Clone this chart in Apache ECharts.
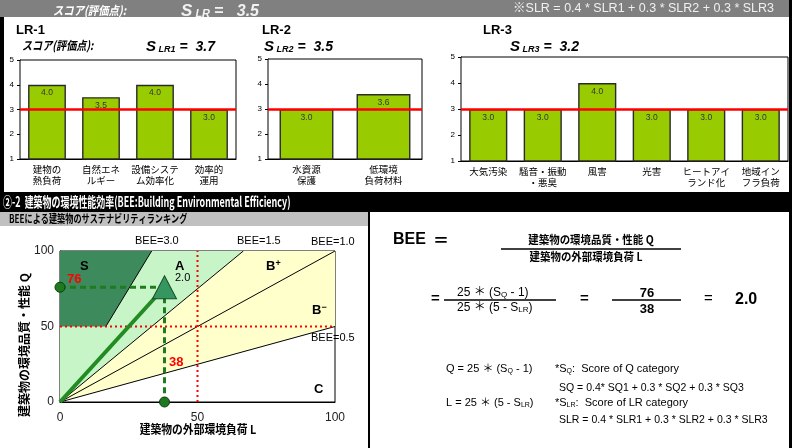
<!DOCTYPE html>
<html>
<head>
<meta charset="utf-8">
<script src="https://cdn.jsdelivr.net/npm/echarts@6/dist/echarts.min.js"></script>
<style>
  html, body { margin: 0; padding: 0; background: #fff; }
  #chart { width: 792px; height: 448px; }
</style>
</head>
<body>
<div id="chart"></div>
<script>
// LR scores (bar charts)
const lr1Cats = ['建物の\n熱負荷', '自然エネ\nルギー', '設備システ\nム効率化', '効率的\n運用'];
const lr1Vals = [4.0, 3.5, 4.0, 3.0];
const lr2Cats = ['水資源\n保護', '低環境\n負荷材料'];
const lr2Vals = [3.0, 3.6];
const lr3Cats = ['大気汚染', '騒音・振動\n・悪臭', '風害', '光害', 'ヒートアイ\nランド化', '地域イン\nフラ負荷'];
const lr3Vals = [3.0, 3.0, 4.0, 3.0, 3.0, 3.0];
const refLine = 3;
const scoreTicks = [1, 2, 3, 4, 5];

// BEE chart
const beeLevels = [3.0, 1.5, 1.0, 0.5];
const beeTicks = [0, 50, 100];
const pointL = 38;
const pointQ = 76;
const beeValue = 2.0;

const JP = "'Noto Sans CJK JP', sans-serif";
const LAT = "'Liberation Sans', 'Noto Sans CJK JP', sans-serif";

var chart = echarts.init(document.getElementById('chart'));

function txt(x, y, text, o) {
  o = o || {};
  return {
    type: 'text', x: x, y: y, z: 100,
    rotation: o.rot || 0, scaleX: o.sx || 1,
    style: {
      text: text, x: 0, y: 0,
      fill: o.color || '#000',
      font: o.font || ('12px ' + LAT),
      align: o.align || 'left', textAlign: o.align || 'left',
      verticalAlign: 'middle', textVerticalAlign: 'middle',
      rich: o.rich
    }
  };
}
function rect(x, y, w, h, c) {
  return { type: 'rect', z: 0, shape: { x: x, y: y, width: w, height: h }, style: { fill: c } };
}
function hline(x1, x2, y) {
  return { type: 'line', z: 100, shape: { x1: x1, y1: y, x2: x2, y2: y }, style: { stroke: '#000', lineWidth: 1.5 } };
}

// S_xx = v rich text
function scoreRich(sub, val) {
  return '{s|S}{sub| ' + sub + '}{e|= ' + val + '}';
}
function richStyles(bs, ss, col) {
  return {
    s: { font: 'italic bold ' + bs + 'px ' + LAT, fill: col, verticalAlign: 'bottom', lineHeight: bs + 4 },
    sub: { font: 'italic bold ' + ss + 'px ' + LAT, fill: col, verticalAlign: 'bottom', lineHeight: ss, padding: [0, 4, 0, 0] },
    e: { font: 'italic bold ' + (bs - 1) + 'px ' + LAT, fill: col, verticalAlign: 'bottom', lineHeight: bs + 4 }
  };
}

const grids = [
  { left: 20, top: 60, width: 216, height: 99 },
  { left: 268, top: 59, width: 154, height: 100 },
  { left: 461, top: 57, width: 327, height: 104 },
  { left: 60, top: 251, width: 275, height: 151 }
].map(g => Object.assign(g, { show: true, borderColor: '#000', borderWidth: 1, backgroundColor: '#fff', z: 2 }));

function barX(i, cats) {
  return {
    type: 'category', gridIndex: i, data: cats,
    axisLine: { lineStyle: { color: '#000' } }, axisTick: { show: false },
    axisLabel: { fontSize: 9.5, lineHeight: 11, color: '#000', margin: 5, interval: 0, fontFamily: JP }
  };
}
function barY(i) {
  return {
    type: 'value', gridIndex: i, min: scoreTicks[0], max: scoreTicks[scoreTicks.length - 1], interval: 1,
    axisLine: { show: true, lineStyle: { color: '#000' } },
    axisTick: { show: true, length: 3, lineStyle: { color: '#000' } },
    axisLabel: { fontSize: 8, color: '#000', margin: 6, fontFamily: LAT },
    splitLine: { lineStyle: { color: '#c0c0c0' } }
  };
}
function barSeries(i, vals) {
  return {
    type: 'bar', xAxisIndex: i, yAxisIndex: i, data: vals, barCategoryGap: '30%', z: 3,
    itemStyle: { color: '#99cc00', borderColor: '#2a2a2a', borderWidth: 1.4 },
    label: { show: true, position: 'insideTop', distance: 4, fontSize: 8.5, color: '#333', fontFamily: LAT,
      formatter: p => p.value.toFixed(1) },
    markLine: { silent: true, symbol: 'none', label: { show: false },
      lineStyle: { color: '#ff0000', width: 2.5, type: 'solid' }, data: [{ yAxis: refLine }] }
  };
}

// BEE regions built from BEE levels
const qTop = beeTicks[2], qMid = beeTicks[1];
const regions = [
  { pts: [[0, 0], [0, qTop], [qTop / beeLevels[1], qTop]], color: '#c8f5c8' },
  { pts: [[0, 0], [qTop / beeLevels[1], qTop], [qTop, qTop], [qTop, qTop * beeLevels[3]]], color: '#ffffcc' },
  { pts: [[0, qMid], [0, qTop], [qTop / beeLevels[0], qTop], [qMid / beeLevels[0], qMid]], color: '#3d8b5c' }
];
function beeLine(b) {
  const start = b >= 3 ? [qMid / b, qMid] : [0, 0];
  const end = b >= 1 ? [qTop / b, qTop] : [qTop, qTop * b];
  return {
    type: 'line', xAxisIndex: 3, yAxisIndex: 3, data: [start, end], symbol: 'none', z: 4, silent: true,
    lineStyle: { color: '#000', width: 1 }
  };
}
function segLine(data, color, width, type, z) {
  return {
    type: 'line', xAxisIndex: 3, yAxisIndex: 3, data: data, symbol: 'none', z: z, silent: true,
    lineStyle: { color: color, width: width, type: type }
  };
}

const option = {
  animation: false,
  grid: grids,
  xAxis: [
    barX(0, lr1Cats), barX(1, lr2Cats), barX(2, lr3Cats),
    { type: 'value', gridIndex: 3, min: 0, max: 100, interval: 50,
      axisLine: { lineStyle: { color: '#000' } }, axisTick: { show: false }, splitLine: { show: false },
      axisLabel: { fontSize: 12, color: '#222', margin: 10, fontFamily: LAT } }
  ],
  yAxis: [
    barY(0), barY(1), barY(2),
    { type: 'value', gridIndex: 3, min: 0, max: 100, interval: 50,
      axisLine: { lineStyle: { color: '#000' } }, axisTick: { show: false }, splitLine: { show: false },
      axisLabel: { fontSize: 12, color: '#222', margin: 6, fontFamily: LAT } }
  ],
  series: [
    barSeries(0, lr1Vals), barSeries(1, lr2Vals), barSeries(2, lr3Vals),
    {
      type: 'custom', xAxisIndex: 3, yAxisIndex: 3, z: 3, silent: true,
      data: regions.map((r, i) => [i]),
      renderItem: (params, api) => {
        const r = regions[params.dataIndex];
        return { type: 'polygon', shape: { points: r.pts.map(p => api.coord(p)) }, style: { fill: r.color } };
      }
    },
    ...beeLevels.map(beeLine),
    segLine([[qMid, 0], [qMid, qTop]], '#ff0000', 2, [2, 3], 5),
    segLine([[0, qMid], [qTop, qMid]], '#ff0000', 2, [2, 3], 5),
    segLine([[0, pointQ], [pointL, pointQ]], '#1e7b1e', 3, [6, 4], 6),
    segLine([[pointL, pointQ], [pointL, 0]], '#1e7b1e', 3, [6, 4], 6),
    segLine([[0, 0], [pointL, pointQ]], '#228b22', 4, 'solid', 7),
    {
      type: 'scatter', xAxisIndex: 3, yAxisIndex: 3, z: 8, silent: true,
      data: [[0, pointQ], [pointL, 0]], symbol: 'circle', symbolSize: 10,
      itemStyle: { color: '#1f7a1f', borderColor: '#0b3d0b', borderWidth: 1, opacity: 1 }
    },
    {
      type: 'scatter', xAxisIndex: 3, yAxisIndex: 3, z: 9, silent: true,
      data: [[pointL, pointQ]], symbol: 'triangle', symbolSize: [24, 23],
      itemStyle: { color: '#359660', borderColor: '#1a4d2a', borderWidth: 1, opacity: 1 }
    }
  ],
  graphic: [
    // frames and bars
    rect(0, 0, 792, 17, '#808080'),
    rect(0, 17, 4, 176, '#000'),
    rect(789, 0, 3, 448, '#000'),
    rect(0, 192, 792, 20, '#000'),
    rect(0, 212, 368, 14, '#c0c0c0'),
    rect(368, 212, 2, 236, '#000'),
    // top bar texts
    txt(53, 10, 'スコア(評価点):', { color: '#fff', font: 'italic bold 12px ' + JP, sx: 0.86 }),
    txt(181, 9, scoreRich('LR', '  3.5'), { rich: richStyles(17, 11, '#f2f2f2') }),
    txt(774, 9, '※SLR = 0.4 * SLR1 + 0.3 * SLR2 + 0.3 * SLR3', { color: '#f0f0f0', font: '12.5px ' + LAT, align: 'right' }),
    // LR titles
    txt(16, 30, 'LR-1', { font: 'bold 13px ' + LAT }),
    txt(22, 45, 'スコア(評価点):', { font: 'italic bold 12px ' + JP, sx: 0.84 }),
    txt(146, 45, scoreRich('LR1', ' 3.7'), { rich: richStyles(15, 9, '#000') }),
    txt(262, 30, 'LR-2', { font: 'bold 13px ' + LAT }),
    txt(264, 45, scoreRich('LR2', ' 3.5'), { rich: richStyles(15, 9, '#000') }),
    txt(483, 30, 'LR-3', { font: 'bold 13px ' + LAT }),
    txt(510, 45, scoreRich('LR3', ' 3.2'), { rich: richStyles(15, 9, '#000') }),
    // section header
    txt(3, 202, '②-2  建築物の環境性能効率(BEE:Building Environmental Efficiency)', { color: '#fff', font: 'bold 14px ' + JP, sx: 0.64 }),
    txt(9, 219, 'BEEによる建築物のサステナビリティランキング', { font: 'bold 11px ' + JP, sx: 0.74 }),
    // BEE chart annotations
    txt(135, 241, 'BEE=3.0', { font: '11px ' + LAT }),
    txt(237, 241, 'BEE=1.5', { font: '11px ' + LAT }),
    txt(311, 242, 'BEE=1.0', { font: '11px ' + LAT }),
    txt(311, 338, 'BEE=0.5', { font: '11px ' + LAT }),
    txt(80, 266, 'S', { font: 'bold 13px ' + LAT }),
    txt(175, 266, 'A', { font: 'bold 13px ' + LAT }),
    txt(266, 266, '{b|B}{p|+}', { rich: { b: { font: 'bold 13px ' + LAT, verticalAlign: 'bottom' }, p: { font: 'bold 9px ' + LAT, verticalAlign: 'top' } } }),
    txt(312, 310, '{b|B}{p|−}', { rich: { b: { font: 'bold 13px ' + LAT, verticalAlign: 'bottom' }, p: { font: 'bold 9px ' + LAT, verticalAlign: 'top' } } }),
    txt(314, 389, 'C', { font: 'bold 13px ' + LAT }),
    txt(67, 279, String(pointQ), { color: '#ff0000', font: 'bold 13px ' + LAT }),
    txt(169, 362, String(pointL), { color: '#ff0000', font: 'bold 13px ' + LAT }),
    txt(175, 278, beeValue.toFixed(1), { font: '11px ' + LAT }),
    txt(198, 429, '建築物の外部環境負荷 L', { font: 'bold 12px ' + JP, align: 'center', sx: 0.9 }),
    txt(24, 345, '建築物の環境品質・性能 Q', { font: 'bold 12px ' + JP, align: 'center', rot: Math.PI / 2 }),
    // right panel formulas
    txt(393, 240, 'BEE', { font: 'bold 16px ' + LAT }),
    txt(433, 240, '＝', { font: 'bold 16px ' + JP }),
    txt(591, 240, '建築物の環境品質・性能 Q', { font: 'bold 11px ' + JP, align: 'center', sx: 0.95 }),
    hline(501, 681, 249),
    txt(586, 257, '建築物の外部環境負荷 L', { font: 'bold 11px ' + JP, align: 'center', sx: 0.95 }),
    txt(431, 299, '=', { font: 'bold 15px ' + LAT }),
    txt(457, 293, '25 ＊ (S{s|Q} - 1)', { font: '12px ' + LAT, rich: { s: { font: '8px ' + LAT, verticalAlign: 'bottom' } } }),
    hline(444, 556, 300),
    txt(457, 308, '25 ＊ (5 - S{s|LR})', { font: '12px ' + LAT, rich: { s: { font: '8px ' + LAT, verticalAlign: 'bottom' } } }),
    txt(580, 299, '=', { font: 'bold 15px ' + LAT }),
    txt(647, 293, String(pointQ), { font: 'bold 13px ' + LAT, align: 'center' }),
    hline(612, 681, 300),
    txt(647, 309, String(pointL), { font: 'bold 13px ' + LAT, align: 'center' }),
    txt(704, 299, '=', { font: '15px ' + LAT }),
    txt(735, 300, beeValue.toFixed(1), { font: 'bold 16px ' + LAT }),
    txt(446, 369, 'Q = 25 ＊ (S{s|Q} - 1)', { font: '11px ' + LAT, rich: { s: { font: '7px ' + LAT, verticalAlign: 'bottom' } } }),
    txt(555, 369, '*S{s|Q}:  Score of Q category', { font: '11px ' + LAT, rich: { s: { font: '7px ' + LAT, verticalAlign: 'bottom' } } }),
    txt(559, 388, 'SQ = 0.4* SQ1 + 0.3 * SQ2 + 0.3 * SQ3', { font: '10.5px ' + LAT }),
    txt(446, 403, 'L = 25 ＊ (5 - S{s|LR})', { font: '11px ' + LAT, rich: { s: { font: '7px ' + LAT, verticalAlign: 'bottom' } } }),
    txt(555, 403, '*S{s|LR}:  Score of LR category', { font: '11px ' + LAT, rich: { s: { font: '7px ' + LAT, verticalAlign: 'bottom' } } }),
    txt(559, 420, 'SLR = 0.4 * SLR1 + 0.3 * SLR2 + 0.3 * SLR3', { font: '10.5px ' + LAT })
  ]
};
chart.setOption(option);
</script>
</body>
</html>
